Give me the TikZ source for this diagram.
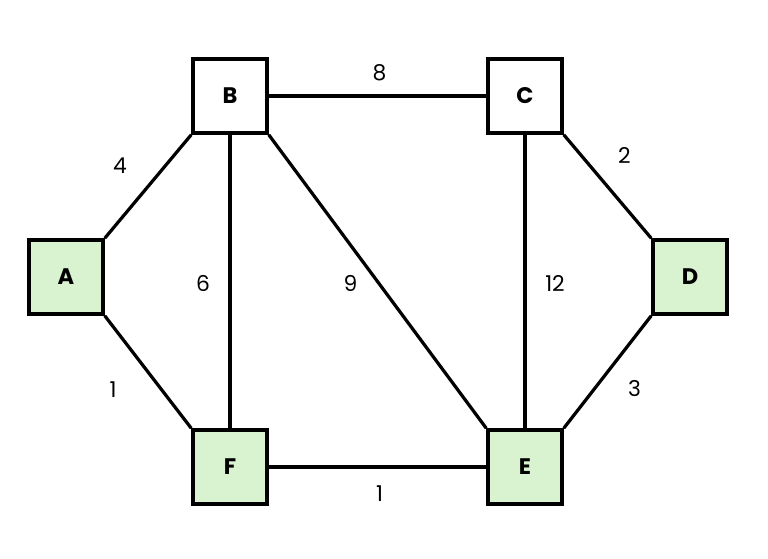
\documentclass[tikz,border=0pt]{standalone}
\usepackage{fontspec}
\setmainfont{Poppins}
\usepackage{xcolor}
\usetikzlibrary{positioning,calc}
\definecolor{vgreen}{HTML}{D9F2D0}

\begin{document}
\begin{tikzpicture}[
    x=0.025cm, y=-0.025cm,
    vert/.style={rectangle, draw, line width=2.5pt, minimum size=1.85cm, inner sep=0pt, font=\fontsize{16}{16}\selectfont\bfseries},
    done/.style={vert, fill=vgreen},
    edge/.style={line width=2.3pt},
    wt/.style={font=\fontsize{15.5}{15.5}\selectfont}
]
\useasboundingbox (0,0) rectangle (768,558);
\node[vert] (B) at (230,96) {B};
\node[vert] (C) at (525,96) {C};
\node[done] (A) at (66,277) {A};
\node[done] (D) at (690,277) {D};
\node[done] (F) at (230,467) {F};
\node[done] (E) at (525,467) {E};

\draw[edge] (A.north east) -- node[wt, shift={(-28,-21)}] {4} (B.south west);
\draw[edge] (A.south east) -- node[wt, shift={(-35,18)}] {1} (F.north west);
\draw[edge] (B) -- node[wt, shift={(-27,2)}] {6} (F);
\draw[edge] (B.south east) -- node[wt, shift={(-27,2)}] {9} (E.north west);
\draw[edge] (B) -- node[wt, shift={(2,-23)}] {8} (C);
\draw[edge] (C) -- node[wt, shift={(30,2)}] {12} (E);
\draw[edge] (C.south east) -- node[wt, shift={(17,-31)}] {2} (D.north west);
\draw[edge] (D.south west) -- node[wt, shift={(27,17)}] {3} (E.north east);
\draw[edge] (F) -- node[wt, shift={(2,27)}] {1} (E);
\end{tikzpicture}
\end{document}
